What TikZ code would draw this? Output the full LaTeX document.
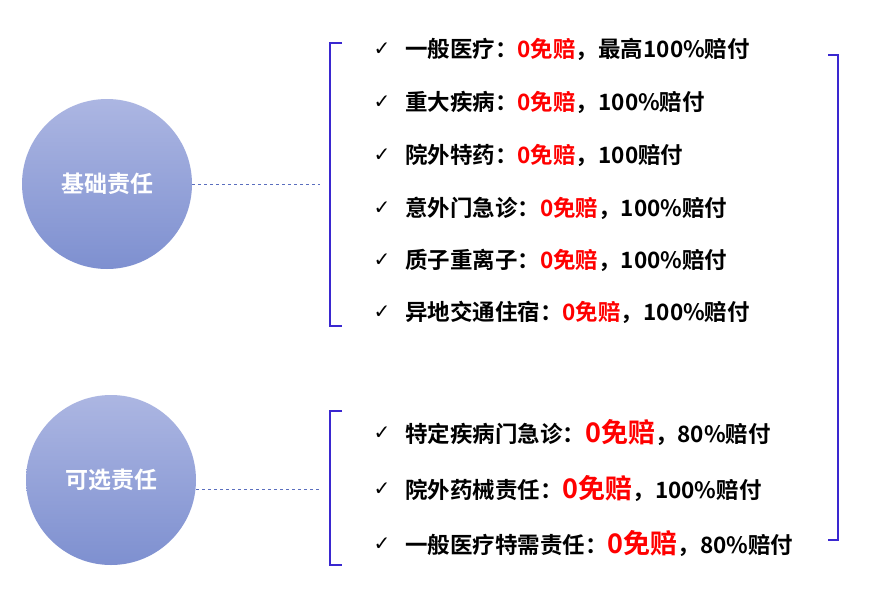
\documentclass[tikz,border=0pt]{standalone}
\usepackage{fontspec}
\setmainfont{Noto Sans CJK SC}[BoldFont={Noto Sans CJK SC Bold}]
\newfontfamily\symfont{DejaVu Sans}
\begin{document}
\begin{tikzpicture}[x=1pt,y=-1pt,
  circ/.style={circle,minimum size=170pt,inner sep=0pt,top color={rgb,255:red,172;green,182;blue,226},bottom color={rgb,255:red,126;green,144;blue,208},text=white,font=\bfseries\fontsize{23}{23}\selectfont},
  brk/.style={draw={rgb,255:red,58;green,40;blue,208},line width=2.5pt},
  dashline/.style={draw={rgb,255:red,90;green,110;blue,190},dashed,line width=0.6pt},
  item/.style={anchor=west,inner sep=0pt,font=\bfseries\fontsize{22.5}{22.5}\selectfont},
  chk/.style={anchor=center,inner sep=0pt,font=\symfont\bfseries\fontsize{20}{20}\selectfont}]
\definecolor{rd}{RGB}{255,0,0}
\useasboundingbox[fill=white] (0,0) rectangle (877,610);
\node[circ] (c1) at (107,184) {基础责任};
\node[circ] (c2) at (111,480) {可选责任};
\coordinate (d1) at (320,184);
\coordinate (d2) at (320,489);
\coordinate (s2) at (196,489);
\draw[dashline] (c1.east) -- (d1);
\draw[dashline] (s2) -- (d2);
\draw[brk] (342,43) -- (330,43) -- (330,326) -- (342,326);
\draw[brk] (342,411) -- (330,411) -- (330,565) -- (342,565);
\draw[brk] (828,55) -- (838,55) -- (838,540) -- (828,540);
\foreach \y/\t in {49/{一般医疗：\textcolor{rd}{0免赔}，最高100\%赔付},
  102/{重大疾病：\textcolor{rd}{0免赔}，100\%赔付},
  155/{院外特药：\textcolor{rd}{0免赔}，100赔付},
  208/{意外门急诊：\textcolor{rd}{0免赔}，100\%赔付},
  260/{质子重离子：\textcolor{rd}{0免赔}，100\%赔付},
  312/{异地交通住宿：\textcolor{rd}{0免赔}，100\%赔付}}{
  \node[chk] at (382,\y) {✓};
  \node[item] at (405,\y) {\t};
}
\foreach \y/\t in {433/{特定疾病门急诊：\textcolor{rd}{\fontsize{27}{27}\selectfont 0免赔}，80\%赔付},
  489/{院外药械责任：\textcolor{rd}{\fontsize{27}{27}\selectfont 0免赔}，100\%赔付},
  544/{一般医疗特需责任：\textcolor{rd}{\fontsize{27}{27}\selectfont 0免赔}，80\%赔付}}{
  \node[chk] at (382,\y) {✓};
  \node[item] at (405,\y) {\t};
}
\end{tikzpicture}
\end{document}
